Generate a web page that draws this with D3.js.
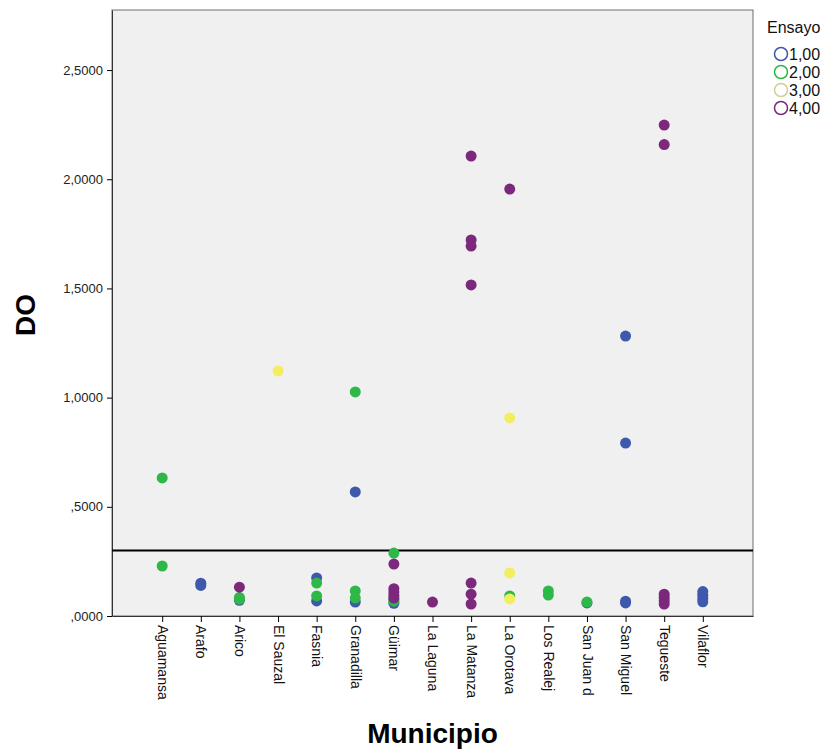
<!DOCTYPE html>
<html>
<head>
<meta charset="utf-8">
<script src="https://cdn.jsdelivr.net/npm/d3@7"></script>
<style>
  body { margin: 0; background: #fff; }
  svg { font-family: "Liberation Sans", Arial, sans-serif; }
</style>
</head>
<body>
<div class="graph"></div>
<script>
// categories on the x axis
const municipios = ["Aguamansa", "Arafo", "Arico", "El Sauzal", "Fasnia", "Granadilla", "Güimar",
  "La Laguna", "La Matanza", "La Orotava", "Los Realej", "San Juan d", "San Miguel", "Tegueste", "Vilaflor"];

const yTicks = [0, 0.5, 1.0, 1.5, 2.0, 2.5];
const refLine = 0.3;

// [municipio, DO] per ensayo
const ensayo1 = [["Arafo", 0.150], ["Arafo", 0.140], ["Arico", 0.072], ["Fasnia", 0.174], ["Fasnia", 0.069],
  ["Granadilla", 0.568], ["Granadilla", 0.064], ["Güimar", 0.058], ["San Juan d", 0.060],
  ["San Miguel", 1.282], ["San Miguel", 0.792], ["San Miguel", 0.068], ["San Miguel", 0.060],
  ["Vilaflor", 0.112], ["Vilaflor", 0.095], ["Vilaflor", 0.080], ["Vilaflor", 0.065]];
const ensayo2 = [["Aguamansa", 0.632], ["Aguamansa", 0.229], ["Arico", 0.085], ["Arico", 0.077],
  ["Fasnia", 0.151], ["Fasnia", 0.092], ["Granadilla", 1.026], ["Granadilla", 0.115], ["Granadilla", 0.082],
  ["Güimar", 0.288], ["Güimar", 0.075], ["Güimar", 0.068], ["La Orotava", 0.092],
  ["Los Realej", 0.115], ["Los Realej", 0.096], ["San Juan d", 0.064]];
const ensayo3 = [["El Sauzal", 1.122], ["La Orotava", 0.907], ["La Orotava", 0.197], ["La Orotava", 0.078]];
const ensayo4 = [["Arico", 0.132], ["Güimar", 0.238], ["Güimar", 0.125], ["Güimar", 0.110], ["Güimar", 0.095],
  ["Güimar", 0.082], ["La Laguna", 0.064], ["La Matanza", 2.106], ["La Matanza", 1.722], ["La Matanza", 1.694],
  ["La Matanza", 1.516], ["La Matanza", 0.151], ["La Matanza", 0.100], ["La Matanza", 0.055],
  ["La Orotava", 1.955], ["Tegueste", 2.248], ["Tegueste", 2.159], ["Tegueste", 0.100], ["Tegueste", 0.085],
  ["Tegueste", 0.070], ["Tegueste", 0.055]];

const ensayoLabels = ["1,00", "2,00", "3,00", "4,00"];
const ensayoData = [ensayo1, ensayo2, ensayo3, ensayo4];
const fillColors = ["#3e58ac", "#2eb848", "#f2ee5e", "#7c287d"];
const legendColors = ["#3e58ac", "#2eb848", "#d3ce97", "#7c287d"];

let margin = {top: 10, right: 76, bottom: 133, left: 112},
    W = 829, H = 749,
    width = W - margin.left - margin.right,
    height = H - margin.top - margin.bottom;

let svg = d3.select(".graph").append("svg")
    .attr("width", W)
    .attr("height", H);

let x = d3.scalePoint()
    .domain(municipios)
    .range([margin.left, margin.left + width])
    .padding(1.3);

let y = d3.scaleLinear()
    .domain([0, 2.775])
    .range([margin.top + height, margin.top]);

// plot background
svg.append("rect")
    .attr("x", margin.left)
    .attr("y", margin.top)
    .attr("width", width)
    .attr("height", height)
    .attr("fill", "#f0f0f0")
    .attr("stroke", "#6e6e6e")
    .attr("stroke-width", 1);

const fmt = v => d3.format(".4f")(v).replace(".", ",").replace(/^0/, "");

// Y axis
svg.append("g")
    .attr("transform", "translate(" + margin.left + ",0)")
    .call(d3.axisLeft(y).tickValues(yTicks).tickFormat(fmt).tickSize(5).tickSizeOuter(0))
    .call(g => g.select(".domain").attr("stroke", "#333"))
    .call(g => g.selectAll("text").attr("font-size", "13px").attr("fill", "#222")
        .attr("font-family", "Liberation Sans, Arial, sans-serif").attr("dx", "-1"));

// X axis
let xAxis = svg.append("g")
    .attr("transform", "translate(0," + (margin.top + height) + ")")
    .call(d3.axisBottom(x).tickSize(6).tickSizeOuter(0))
    .call(g => g.select(".domain").attr("stroke", "#333"));
xAxis.selectAll("text")
    .attr("font-size", "14px")
    .attr("fill", "#111")
    .attr("font-family", "Liberation Sans, Arial, sans-serif")
    .attr("transform", "rotate(90)")
    .attr("text-anchor", "start")
    .attr("x", 9)
    .attr("y", 0)
    .attr("dy", "0.35em");

// reference line
svg.append("line")
    .attr("x1", margin.left)
    .attr("x2", margin.left + width)
    .attr("y1", y(refLine))
    .attr("y2", y(refLine))
    .attr("stroke", "#000")
    .attr("stroke-width", 2);

// points
ensayoData.forEach(function (series, i) {
    svg.append("g").selectAll("circle")
        .data(series)
        .enter().append("circle")
        .attr("cx", d => x(d[0]))
        .attr("cy", d => y(d[1]))
        .attr("r", 5.5)
        .attr("fill", fillColors[i]);
});

// axis titles
svg.append("text")
    .attr("transform", "translate(35," + (margin.top + height / 2 + 2) + ") rotate(-90)")
    .attr("text-anchor", "middle")
    .attr("font-size", "28px")
    .attr("font-weight", "bold")
    .attr("font-family", "Liberation Sans, Arial, sans-serif")
    .text("DO");

svg.append("text")
    .attr("x", margin.left + width / 2)
    .attr("y", 743)
    .attr("text-anchor", "middle")
    .attr("font-size", "28px")
    .attr("font-weight", "bold")
    .attr("font-family", "Liberation Sans, Arial, sans-serif")
    .text("Municipio");

// legend
let legend = svg.append("g").attr("transform", "translate(767,0)");
legend.append("text")
    .attr("x", 0)
    .attr("y", 33)
    .attr("font-size", "16px")
    .attr("fill", "#111")
    .text("Ensayo");
legend.selectAll(".item")
    .data(ensayoLabels)
    .enter().append("g")
    .attr("transform", (d, i) => "translate(0," + (54 + i * 18) + ")")
    .each(function (d, i) {
        let g = d3.select(this);
        g.append("circle")
            .attr("cx", 14)
            .attr("cy", 0)
            .attr("r", 6.5)
            .attr("fill", "none")
            .attr("stroke", legendColors[i])
            .attr("stroke-width", 1.5);
        g.append("text")
            .attr("x", 22)
            .attr("y", 5.5)
            .attr("font-size", "16px")
            .attr("fill", "#111")
            .text(d);
    });
</script>
</body>
</html>
